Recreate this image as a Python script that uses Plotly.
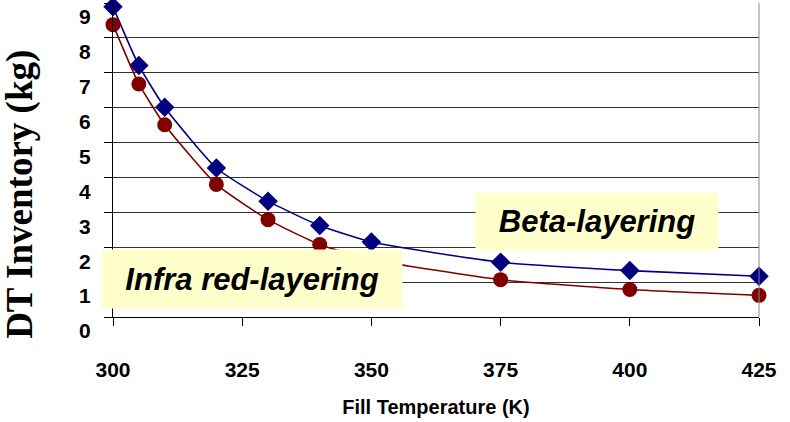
import plotly.graph_objects as go

temps = [300, 305, 310, 320, 330, 340, 350, 375, 400, 425]
beta = [8.89, 7.21, 6.01, 4.27, 3.32, 2.62, 2.15, 1.57, 1.33, 1.17]
infrared = [8.38, 6.68, 5.51, 3.80, 2.79, 2.08, 1.65, 1.07, 0.79, 0.62]
x_ticks = [300, 325, 350, 375, 400, 425]
y_ticks = [0, 1, 2, 3, 4, 5, 6, 7, 8, 9]

fig = go.Figure()
fig.add_trace(go.Scatter(
    x=temps, y=beta, mode="lines+markers", name="Beta-layering",
    line=dict(color="#000080", width=1.6, shape="spline", smoothing=0.5),
    marker=dict(symbol="diamond", size=15, color="#000080"),
    cliponaxis=False))
fig.add_trace(go.Scatter(
    x=temps, y=infrared, mode="lines+markers", name="Infra red-layering",
    line=dict(color="#800000", width=1.6, shape="spline", smoothing=0.5),
    marker=dict(symbol="circle", size=15, color="#800000"),
    cliponaxis=False))

tick_font = dict(family="Liberation Sans, Arial", size=21, color="black", weight="bold")

fig.update_layout(
    width=790, height=422,
    margin=dict(l=112.5, r=31, t=3, b=104.5),
    paper_bgcolor="white", plot_bgcolor="white",
    showlegend=False,
    xaxis=dict(
        range=[300, 425], tickvals=x_ticks, ticktext=[str(v) for v in x_ticks],
        showgrid=False, zeroline=False, automargin=False,
        showline=True, linecolor="black", linewidth=1.2,
        ticks="outside", ticklen=8, tickcolor="black", tickwidth=1.2,
        tickfont=tick_font, ticklabelstandoff=26,
        title=dict(text="Fill Temperature (K)",
                   font=dict(family="Liberation Sans, Arial", size=20, color="black", weight="bold"),
                   standoff=19),
    ),
    yaxis=dict(
        range=[0, 9], tickvals=y_ticks, ticktext=[str(v) for v in y_ticks],
        showgrid=True, gridcolor="#333333", gridwidth=1,
        zeroline=False, automargin=False,
        showline=True, linecolor="black", linewidth=1.2,
        ticks="outside", ticklen=8, tickcolor="black", tickwidth=1.2,
        tickfont=tick_font, ticklabelstandoff=9, ticklabelshift=14,
    ),
)

# right border of plot area
fig.add_shape(type="line", xref="paper", yref="paper", x0=1, x1=1, y0=0, y1=1,
              line=dict(color="#888888", width=1))

# y axis title
fig.add_annotation(
    text="DT Inventory (kg)", xref="paper", yref="paper",
    x=-0.145, y=0.39, xanchor="center", yanchor="middle",
    textangle=-90, showarrow=False,
    font=dict(family="Liberation Serif, Times New Roman", size=37, color="black", weight="bold"))

box_font = dict(family="Liberation Sans, Arial", size=31, color="black", weight="bold", style="italic")
fig.add_annotation(
    text="Infra red-layering", x=326.9, y=1.10, xref="x", yref="y",
    showarrow=False, bgcolor="#FFFFCC", width=300, height=58, borderpad=0,
    font=box_font)
fig.add_annotation(
    text="Beta-layering", x=393.6, y=2.74, xref="x", yref="y",
    showarrow=False, bgcolor="#FFFFCC", width=242, height=57, borderpad=0,
    font=box_font)

fig.write_html("out.html", config={"displayModeBar": False},
               post_script="document.body.style.margin='0';document.body.style.overflow='hidden';")
